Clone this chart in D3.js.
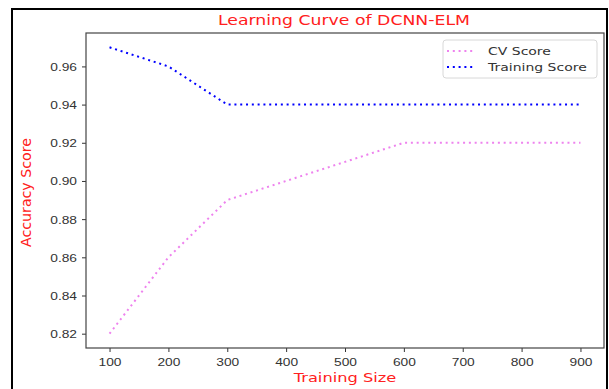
<!DOCTYPE html>
<html>
<head>
<meta charset="utf-8">
<script src="https://cdn.jsdelivr.net/npm/d3@7"></script>
<style>
  html, body { margin: 0; padding: 0; background: #fff; }
  svg { display: block; font-family: "DejaVu Sans", sans-serif; }
</style>
</head>
<body>
<svg id="chart" width="609" height="389"></svg>
<script>
// data
var trainSizes = [100, 200, 300, 400, 500, 600, 700, 800, 900];
var cvScores = [0.82, 0.86, 0.89, 0.90, 0.91, 0.92, 0.92, 0.92, 0.92];
var trainScores = [0.97, 0.96, 0.94, 0.94, 0.94, 0.94, 0.94, 0.94, 0.94];
var xTicks = [100, 200, 300, 400, 500, 600, 700, 800, 900];
var yTicks = [0.82, 0.84, 0.86, 0.88, 0.90, 0.92, 0.94, 0.96];
var seriesNames = ['CV Score', 'Training Score'];
var seriesColors = ['#ee82ee', '#0000ff'];

var plot = { left: 86, right: 604, top: 33, bottom: 348 };
var stretch = 1.25; // the picture is widened a bit, text looks wide

var svg = d3.select('#chart');

// outer frame (bottom edge runs off the picture)
svg.append('rect')
  .attr('x', 12).attr('y', 9)
  .attr('width', 595).attr('height', 400)
  .attr('fill', 'none')
  .attr('stroke', '#000')
  .attr('stroke-width', 2);

var x = d3.scaleLinear().domain([60, 940]).range([plot.left, plot.right]);
var y = d3.scaleLinear().domain([0.8125, 0.9775]).range([plot.bottom, plot.top]);

// text that is stretched sideways around its anchor
function wideText(g, tx, ty, str, size, anchor, fill, sx) {
  return g.append('text')
    .attr('transform', 'translate(' + tx + ',' + ty + ') scale(' + (sx || stretch) + ',1)')
    .attr('text-anchor', anchor)
    .attr('font-size', size)
    .attr('fill', fill)
    .text(str);
}

// axes
var xAxis = d3.axisBottom(x).tickValues(xTicks).tickSize(4).tickPadding(3);
var yAxis = d3.axisLeft(y).tickValues(yTicks).tickSize(4).tickPadding(3);

var gx = svg.append('g').attr('transform', 'translate(0,' + plot.bottom + ')').call(xAxis);
var gy = svg.append('g').attr('transform', 'translate(' + plot.left + ',0)').call(yAxis);

[gx, gy].forEach(function(g) {
  g.select('.domain').remove();
  g.selectAll('.tick line').attr('stroke', '#333').attr('stroke-width', 1);
  g.selectAll('.tick text').remove();
});

// tick labels, redrawn so they can be stretched like the picture
gx.selectAll('.tick').each(function(d) {
  wideText(d3.select(this), 0, 18, d3.format('d')(d), 11, 'middle', '#333');
});
gy.selectAll('.tick').each(function(d) {
  wideText(d3.select(this), -9, 4, d3.format('.2f')(d), 11, 'end', '#333');
});

// plot frame
svg.append('rect')
  .attr('x', plot.left).attr('y', plot.top)
  .attr('width', plot.right - plot.left)
  .attr('height', plot.bottom - plot.top)
  .attr('fill', 'none')
  .attr('stroke', '#444')
  .attr('stroke-width', 1.2);

// lines
var line = d3.line()
  .x(function(d) { return x(d[0]); })
  .y(function(d) { return y(d[1]); });

[cvScores, trainScores].forEach(function(vals, i) {
  svg.append('path')
    .datum(trainSizes.map(function(s, k) { return [s, vals[k]]; }))
    .attr('d', line)
    .attr('fill', 'none')
    .attr('stroke', seriesColors[i])
    .attr('stroke-width', 2)
    .attr('stroke-dasharray', '2,3.8');
});

// legend
var leg = svg.append('g');
leg.append('rect')
  .attr('x', 443).attr('y', 40)
  .attr('width', 154).attr('height', 38)
  .attr('rx', 3)
  .attr('fill', '#fff')
  .attr('stroke', '#d8d8d8')
  .attr('stroke-width', 1);

seriesNames.forEach(function(name, i) {
  var cy = 51 + i * 16;
  leg.append('line')
    .attr('x1', 447).attr('x2', 474)
    .attr('y1', cy).attr('y2', cy)
    .attr('stroke', seriesColors[i])
    .attr('stroke-width', 2)
    .attr('stroke-dasharray', '2,3.8');
  wideText(leg, 488, cy + 4, name, 11.2, 'start', '#333');
});

// titles
wideText(svg, 344, 24.7, 'Learning Curve of DCNN-ELM', 13.3, 'middle', '#ff2020', 1.3);
wideText(svg, 345, 382, 'Training Size', 13, 'middle', '#ff2020');

svg.append('text')
  .attr('transform', 'translate(30.5,' + ((plot.top + plot.bottom) / 2 + 2) + ') rotate(-90) scale(1.05,1)')
  .attr('text-anchor', 'middle')
  .attr('font-size', 13.5)
  .attr('fill', '#ff2020')
  .text('Accuracy Score');
</script>
</body>
</html>
